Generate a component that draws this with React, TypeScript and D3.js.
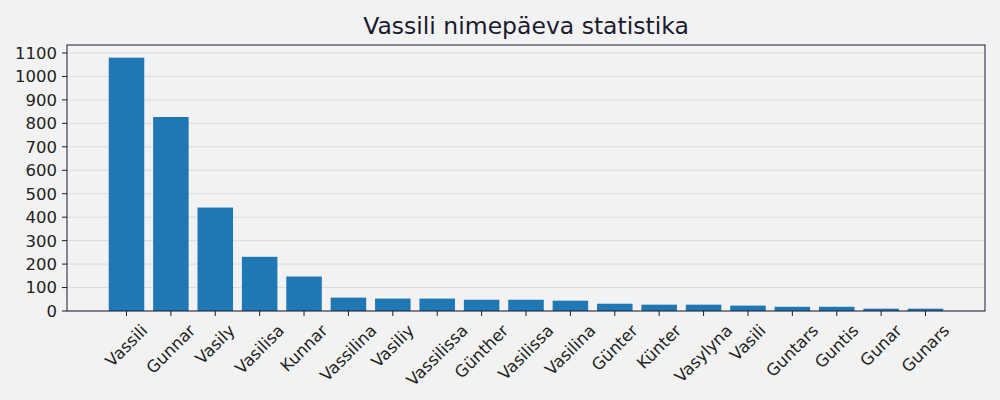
import * as d3 from "d3";

const NAMES = [
  "Vassili", "Gunnar", "Vasily", "Vasilisa", "Kunnar", "Vassilina", "Vasiliy",
  "Vassilissa", "Günther", "Vasilissa", "Vasilina", "Günter", "Künter",
  "Vasylyna", "Vasili", "Guntars", "Guntis", "Gunar", "Gunars",
];
const COUNTS = [
  1080, 827, 441, 231, 147, 57, 53, 53, 48, 48, 44, 31, 27, 27, 23, 18, 18, 10, 10,
];
const Y_TICKS = [0, 100, 200, 300, 400, 500, 600, 700, 800, 900, 1000, 1100];
const TITLE = "Vassili nimepäeva statistika";

const W = 1000;
const H = 400;
const M = { left: 67, right: 15, top: 45, bottom: 89 };
const FONT = "DejaVu Sans, sans-serif";
const TICK_FONT = 16.5;
const TICK_LEN = 5;

let ctx: CanvasRenderingContext2D | null = null;
const measure = (s: string) => {
  if (!ctx) ctx = document.createElement("canvas").getContext("2d");
  if (!ctx) return s.length * TICK_FONT * 0.6;
  ctx.font = `${TICK_FONT}px "DejaVu Sans"`;
  return ctx.measureText(s).width;
};

export default function App() {
  const innerW = W - M.left - M.right;
  const innerH = H - M.top - M.bottom;

  // matplotlib-like band: bars centred on integers, width 0.8, 5% margins
  const lo = -0.4 - 0.05 * (NAMES.length - 1 + 0.8);
  const hi = NAMES.length - 1 + 0.4 + 0.05 * (NAMES.length - 1 + 0.8);
  const x = d3.scaleLinear().domain([lo, hi]).range([0, innerW]);
  const y = d3
    .scaleLinear()
    .domain([0, d3.max(COUNTS)! * 1.05])
    .range([innerH, 0]);

  const barW = x(0.8) - x(0);

  return (
    <svg
      width={W}
      height={H}
      style={{ display: "block", position: "absolute", left: 0, top: 0 }}
      fontFamily={FONT}
    >
      <rect width={W} height={H} fill="#f2f2f2" />
      <text
        x={M.left + innerW / 2}
        y={34}
        textAnchor="middle"
        fontSize={23.5}
        fill="#1a1a2e"
      >
        {TITLE}
      </text>
      <g transform={`translate(${M.left}, ${M.top})`}>
        {/* grid */}
        {Y_TICKS.map((t) => (
          <line
            key={`g${t}`}
            x1={0}
            x2={innerW}
            y1={y(t)}
            y2={y(t)}
            stroke="#d6d6d6"
            strokeWidth={0.8}
          />
        ))}

        {/* bars */}
        {COUNTS.map((v, i) => (
          <rect
            key={NAMES[i] + i}
            x={x(i) - barW / 2}
            y={y(v)}
            width={barW}
            height={innerH - y(v)}
            fill="#1f77b4"
          />
        ))}

        {/* frame */}
        <rect
          x={0}
          y={0}
          width={innerW}
          height={innerH}
          fill="none"
          stroke="#1a1a2e"
          strokeWidth={1}
        />

        {/* y axis */}
        {Y_TICKS.map((t) => (
          <g key={`y${t}`} transform={`translate(0, ${y(t)})`}>
            <line x1={-TICK_LEN} x2={0} stroke="#1a1a2e" />
            <text
              x={-TICK_LEN - 5}
              dy="0.36em"
              textAnchor="end"
              fontSize={TICK_FONT}
              fill="#222"
            >
              {t}
            </text>
          </g>
        ))}

        {/* x axis */}
        {NAMES.map((n, i) => {
          const w = measure(n);
          const h = TICK_FONT * 1.17;
          const cy = innerH + TICK_LEN + 4.9 + 0.7071 * (w / 2 + h / 2);
          return (
            <g key={`x${i}`}>
              <line
                x1={x(i)}
                x2={x(i)}
                y1={innerH}
                y2={innerH + TICK_LEN}
                stroke="#1a1a2e"
              />
              <text
                x={x(i)}
                y={cy}
                dominantBaseline="central"
                textAnchor="middle"
                fontSize={TICK_FONT}
                fill="#222"
                transform={`rotate(-45, ${x(i)}, ${cy})`}
              >
                {n}
              </text>
            </g>
          );
        })}
      </g>
    </svg>
  );
}
